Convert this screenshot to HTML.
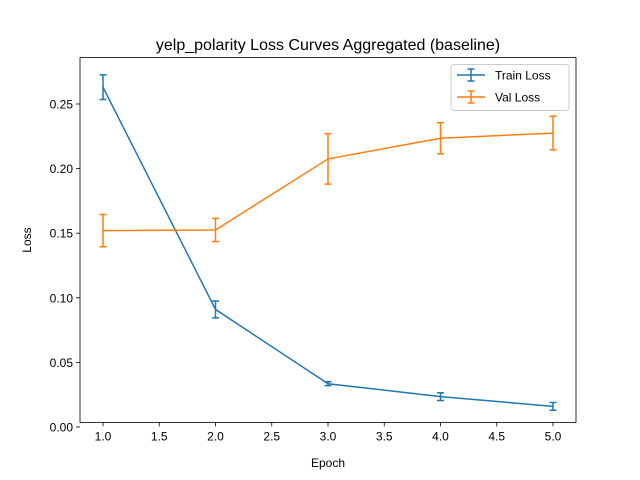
<!DOCTYPE html>
<html><head><meta charset="utf-8"><style>body{margin:0;background:#fff}svg{display:block;font-family:"Liberation Sans",sans-serif}</style></head>
<body>
<svg id="c" width="640" height="480"></svg>
<script>
const epochs=[1,2,3,4,5];
const trainLoss=[0.263,0.091,0.0335,0.0235,0.016];
const trainErr=[0.0095,0.0065,0.0015,0.003,0.003];
const valLoss=[0.152,0.1525,0.2075,0.2235,0.2275];
const valErr=[0.0125,0.009,0.0195,0.012,0.013];
const xTicks=[1.0,1.5,2.0,2.5,3.0,3.5,4.0,4.5,5.0];
const yTicks=[0,0.05,0.10,0.15,0.20,0.25];
const NS="http://www.w3.org/2000/svg";
const svg=document.getElementById('c');
const L=80,R=576,T=57.6,B=422.4;
const xs=v=>103+(v-1)*(553-103)/4;
const ys=v=>427-v*1292;
function el(t,a,p){const e=document.createElementNS(NS,t);for(const k in a)e.setAttribute(k,a[k]);(p||svg).appendChild(e);return e;}
let e;
e=el('text',{x:328,y:50,'text-anchor':'middle','font-size':16,fill:'#000'});e.textContent='yelp_polarity Loss Curves Aggregated (baseline)';


xTicks.forEach(v=>{const x=xs(v);
 e=el('line',{x1:x,x2:x,y1:B,y2:B+4,stroke:'#000','stroke-width':0.8});
 
 
 e=el('text',{x:x,y:B+18,'text-anchor':'middle','font-size':12});e.textContent=v.toFixed(1);
 
 });
yTicks.forEach(v=>{const y=ys(v);
 e=el('line',{x1:L-4,x2:L,y1:y,y2:y,stroke:'#000','stroke-width':0.8});
 
 
 e=el('text',{x:L-7,y:y+4.5,'text-anchor':'end','font-size':12});e.textContent=v.toFixed(2);
 
 });
e=el('text',{x:328,y:467,'text-anchor':'middle','font-size':12});e.textContent='Epoch';


e=el('text',{x:31,y:240,'text-anchor':'middle','font-size':12,transform:'rotate(-90 31 240)'});e.textContent='Loss';


function series(vals,errs,color,name){
 const g=el('g',{});
 
 
 el('polyline',{points:epochs.map((x,i)=>xs(x)+','+ys(vals[i])).join(' '),fill:'none',stroke:color,'stroke-width':1.5},g);
 epochs.forEach((x,i)=>{const px=xs(x),y1=ys(vals[i]-errs[i]),y2=ys(vals[i]+errs[i]);
  const b=el('path',{d:`M${px},${y1}V${y2}M${px-3.5},${y1}H${px+3.5}M${px-3.5},${y2}H${px+3.5}`,stroke:color,'stroke-width':1.5,fill:'none'},g);
  
  });
}
series(trainLoss,trainErr,'#1f77b4','train-loss-series');
series(valLoss,valErr,'#ff7f0e','val-loss-series');
e=el('rect',{x:L,y:T,width:R-L,height:B-T,fill:'none',stroke:'#000','stroke-width':0.8});


const lg=el('g',{});


el('rect',{x:451,y:64.5,width:118,height:46,rx:3,fill:'#fff',stroke:'#ccc','stroke-width':1},lg);
[['Train Loss','#1f77b4',75],['Val Loss','#ff7f0e',97]].forEach(([t,c,y])=>{
 el('path',{d:`M457,${y}H485M471,${y-6}V${y+6}M467.5,${y-6}H474.5M467.5,${y+6}H474.5`,stroke:c,'stroke-width':1.5,fill:'none'},lg);
 const tx=el('text',{x:495,y:y+4.5,'font-size':12},lg);tx.textContent=t;
 
 
});
</script>
</body></html>
